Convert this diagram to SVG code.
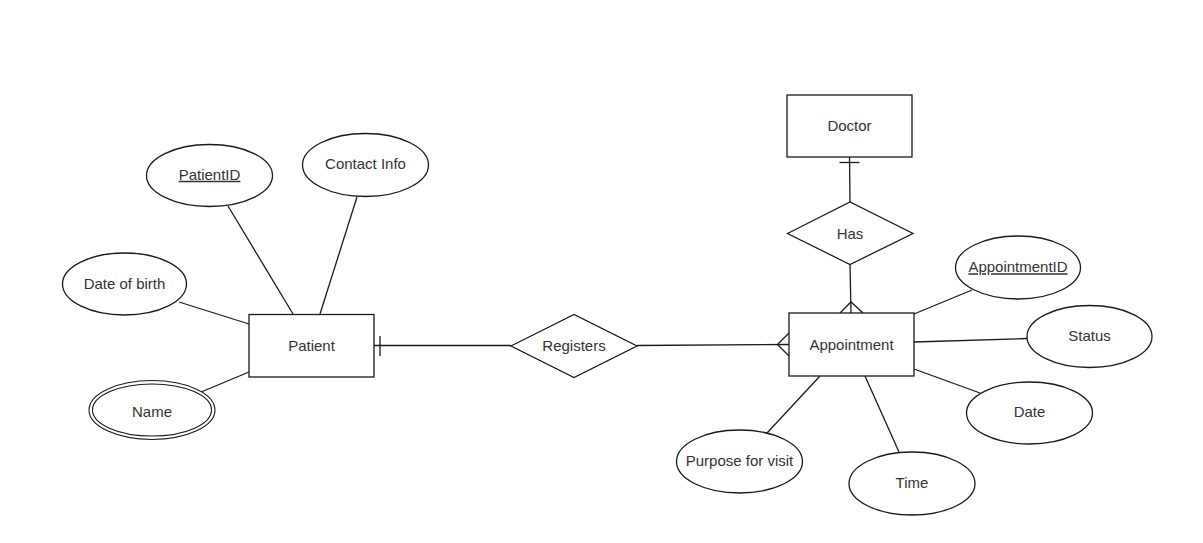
<svg xmlns="http://www.w3.org/2000/svg" width="1203" height="543" viewBox="0 0 1203 543">
  <style>
    .shape { fill: #ffffff; stroke: #1a1a1a; stroke-width: 1.3; }
    .edge { fill: none; stroke: #1a1a1a; stroke-width: 1.3; }
    .thin { stroke-width: 1.1; }
    .label { font-family: "Liberation Sans", Arial, Helvetica, sans-serif; font-size: 15px; fill: #333; text-anchor: middle; }
    .key { text-decoration: underline; }
  </style>
  <rect width="1203" height="543" fill="#ffffff"/>

  <!-- connectors -->
  <g id="connectors">
    <!-- Patient attributes -->
    <line class="edge" x1="179" y1="302" x2="249" y2="324"/>
    <line class="edge" x1="228" y1="206" x2="293" y2="314"/>
    <line class="edge" x1="357" y1="197" x2="320" y2="314"/>
    <line class="edge" x1="201" y1="392" x2="249" y2="372"/>
    <!-- Patient - Registers (one) -->
    <line class="edge" x1="374" y1="345.5" x2="511" y2="345.5"/>
    <line class="edge" x1="380" y1="336" x2="380" y2="356"/>
    <!-- Registers - Appointment (many) -->
    <line class="edge" x1="637" y1="345.5" x2="789" y2="344.5"/>
    <polyline class="edge" points="789,333 777.5,344.5 789,356"/>
    <!-- Doctor - Has (one) -->
    <line class="edge" x1="849.5" y1="157" x2="850" y2="202"/>
    <line class="edge" x1="839.5" y1="162.5" x2="859.5" y2="162.5"/>
    <!-- Has - Appointment (many) -->
    <line class="edge" x1="850" y1="264" x2="851" y2="313"/>
    <polyline class="edge" points="840,313 851,302 863,313"/>
    <!-- Appointment attributes -->
    <line class="edge" x1="914" y1="314" x2="972" y2="290"/>
    <line class="edge" x1="914" y1="342" x2="1027" y2="338.5"/>
    <line class="edge" x1="914" y1="369" x2="980" y2="393"/>
    <line class="edge" x1="865" y1="376" x2="899" y2="452"/>
    <line class="edge" x1="820" y1="376" x2="767" y2="433"/>
  </g>

  <!-- entities -->
  <g id="patient">
    <rect class="shape" x="249" y="314.5" width="125" height="62.5"/>
    <text class="label" x="311.5" y="345.5" dy="0.35em">Patient</text>
  </g>
  <g id="appointment">
    <rect class="shape" x="789" y="313" width="125" height="63"/>
    <text class="label" x="851.5" y="344.5" dy="0.35em">Appointment</text>
  </g>
  <g id="doctor">
    <rect class="shape" x="787" y="95" width="125" height="62"/>
    <text class="label" x="849.5" y="126" dy="0.35em">Doctor</text>
  </g>

  <!-- relationships -->
  <g id="registers">
    <polygon class="shape" points="511,346 574,314.5 637,346 574,377.5"/>
    <text class="label" x="574" y="346" dy="0.35em">Registers</text>
  </g>
  <g id="has">
    <polygon class="shape" points="787.5,233.5 850,202 913,233.5 850,264.5"/>
    <text class="label" x="850" y="233.5" dy="0.35em">Has</text>
  </g>

  <!-- Patient attributes -->
  <g id="patient-id">
    <ellipse class="shape" cx="209.5" cy="175.5" rx="63" ry="31"/>
    <text class="label key" x="209.5" y="174.5" dy="0.35em">PatientID</text>
  </g>
  <g id="contact-info">
    <ellipse class="shape" cx="365.5" cy="165" rx="63" ry="31.5"/>
    <text class="label" x="365.5" y="164" dy="0.35em">Contact Info</text>
  </g>
  <g id="date-of-birth">
    <ellipse class="shape" cx="124.5" cy="284" rx="62" ry="31"/>
    <text class="label" x="124.5" y="283.5" dy="0.35em">Date of birth</text>
  </g>
  <g id="name">
    <ellipse class="shape thin" cx="152" cy="410" rx="63" ry="29.5"/>
    <ellipse class="shape thin" cx="152" cy="410" rx="59.5" ry="26"/>
    <text class="label" x="152" y="411.5" dy="0.35em">Name</text>
  </g>

  <!-- Appointment attributes -->
  <g id="appointment-id">
    <ellipse class="shape" cx="1018" cy="267.5" rx="62.5" ry="31.5"/>
    <text class="label key" x="1018" y="267" dy="0.35em">AppointmentID</text>
  </g>
  <g id="status">
    <ellipse class="shape" cx="1089.5" cy="336.5" rx="62.5" ry="31"/>
    <text class="label" x="1089.5" y="335.5" dy="0.35em">Status</text>
  </g>
  <g id="date">
    <ellipse class="shape" cx="1029.5" cy="413" rx="63" ry="31"/>
    <text class="label" x="1029.5" y="412" dy="0.35em">Date</text>
  </g>
  <g id="time">
    <ellipse class="shape" cx="912" cy="483.5" rx="63" ry="31.5"/>
    <text class="label" x="912" y="482.5" dy="0.35em">Time</text>
  </g>
  <g id="purpose">
    <ellipse class="shape" cx="739.5" cy="461.5" rx="63" ry="31.5"/>
    <text class="label" x="739.5" y="461" dy="0.35em">Purpose for visit</text>
  </g>
</svg>
